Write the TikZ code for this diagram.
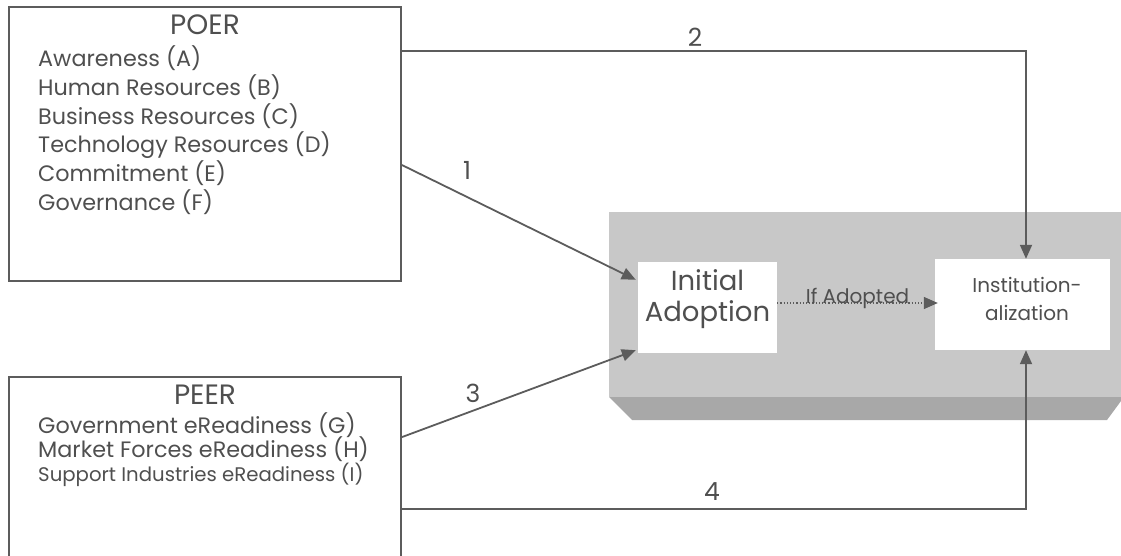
\documentclass[tikz,border=0pt]{standalone}
\usepackage{fontspec}
\setmainfont{Poppins}
\usetikzlibrary{arrows.meta}
\definecolor{ink}{HTML}{4F4F4F}
\definecolor{rule}{HTML}{5C5C5C}
\definecolor{slab}{HTML}{C8C8C8}
\definecolor{slabedge}{HTML}{A8A8A8}
\newcommand{\fs}[1]{\fontsize{#1}{#1}\selectfont}
\tikzset{
  frame/.style={draw=rule, line width=1.8pt, fill=none, inner sep=0pt},
  whitebox/.style={fill=white, draw=none, inner sep=0pt},
  txt/.style={text=ink, inner sep=0pt, anchor=base west},
  ttl/.style={text=ink, inner sep=0pt, anchor=base, font=\fs{28}},
  num/.style={text=ink, inner sep=0pt, font=\fs{25}},
  link/.style={draw=rule, line width=1.8pt, -{Triangle[length=14pt,width=12pt]}},
  maybe/.style={draw=rule, line width=1.3pt, dash pattern=on 1.2pt off 2pt,
    -{Triangle[length=14pt,width=12pt]}}
}
\begin{document}
\begin{tikzpicture}[x=1pt,y=-1pt]
\useasboundingbox (0,0) rectangle (1121,556);

% raised slab behind the two outcome boxes
\fill[slab] (609,212) rectangle (1121,397);
\fill[slabedge] (609,397) -- (1121,397) -- (1121,401) -- (1107,420) -- (632,420) -- cycle;

% organisational factors
\node[frame, minimum width=392pt, minimum height=274pt] (poer) at (205,144) {};
\node[ttl] (poert) at (205,35) {POER};
\node[txt, font=\fs{22.3}] (pa) at (38,67) {Awareness (A)};
\node[txt, font=\fs{22.3}] (pb) at (38,96) {Human Resources (B)};
\node[txt, font=\fs{22.3}] (pc) at (38,125) {Business Resources (C)};
\node[txt, font=\fs{22.3}] (pd) at (38,153) {Technology Resources (D)};
\node[txt, font=\fs{22.3}] (pe) at (38,182) {Commitment (E)};
\node[txt, font=\fs{22.3}] (pf) at (38,211) {Governance (F)};

% environmental factors
\node[frame, minimum width=392pt, minimum height=190pt] (peer) at (205,472) {};
\node[ttl] (peert) at (205,404) {PEER};
\node[txt, font=\fs{22.3}] (pg) at (38,433) {Government eReadiness (G)};
\node[txt, font=\fs{22.3}] (ph) at (38,457) {Market Forces eReadiness (H)};
\node[txt, font=\fs{19.7}] (pi) at (38,481) {Support Industries eReadiness (I)};

% outcome stages
\node[whitebox, minimum width=139pt, minimum height=91pt] (init) at (707.5,307.5) {};
\node[text=ink, inner sep=0pt, anchor=base, font=\fs{27.5}] (initA) at (707.5,290) {Initial};
\node[text=ink, inner sep=0pt, anchor=base, font=\fs{27.5}] (initB) at (707.5,321) {Adoption};

\node[whitebox, minimum width=175pt, minimum height=91pt] (inst) at (1022.5,304.5) {};
\node[text=ink, inner sep=0pt, anchor=base, font=\fs{20}] (instA) at (1027,292) {Institution-};
\node[text=ink, inner sep=0pt, anchor=base, font=\fs{20}] (instB) at (1027,320) {alization};

% relationships
\draw[link] ([yshift=-45pt]poer.north east) -| ([xshift=3.5pt]inst.north);
\node[num] (n2) at (695,37) {2};
\draw[link] ([yshift=-21pt]poer.east) -- ([yshift=-18pt,xshift=-2pt]init.north west);
\node[num] (n1) at (467,170) {1};
\draw[link] ([yshift=-61pt]peer.north east) -- ([yshift=3pt,xshift=-2pt]init.south west);
\node[num] (n3) at (473,393) {3};
\draw[link] ([yshift=-133pt]peer.north east) -| ([xshift=3.5pt]inst.south);
\node[num] (n4) at (712,492) {4};

\coordinate (ia) at ([yshift=4.5pt]init.east);
\draw[maybe] (ia) -- ([xshift=3pt]ia -| inst.west)
  node[midway, text=ink, inner sep=0pt, anchor=base, font=\fs{20}] (ifad) {If Adopted};
\end{tikzpicture}
\end{document}
